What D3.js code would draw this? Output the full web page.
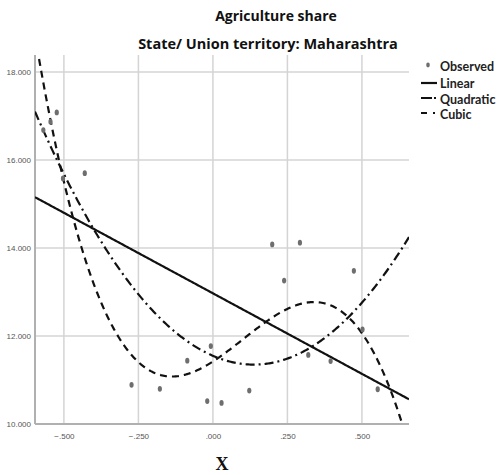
<!DOCTYPE html>
<html>
<head>
<meta charset="utf-8">
<script src="https://cdn.jsdelivr.net/npm/d3@7"></script>
<style>
  html, body { margin: 0; padding: 0; background: #fff; }
  svg { display: block; }
</style>
</head>
<body>
<svg id="chart" width="502" height="475"></svg>
<script>
// Observed values (x, agriculture share)
const obsX = [-0.569, -0.545, -0.524, -0.503, -0.430, -0.273, -0.178, -0.086, -0.007, -0.019,
              0.029, 0.122, 0.199, 0.239, 0.292, 0.320, 0.395, 0.473, 0.502, 0.553];
const obsY = [16.68, 16.87, 17.08, 15.58, 15.70, 10.89, 10.80, 11.44, 11.77, 10.52,
              10.48, 10.76, 14.08, 13.26, 14.12, 11.57, 11.43, 13.48, 12.15, 10.79];

// Fitted model coefficients, constant term first
const linearCoef = [12.97, -3.66];
const quadraticCoef = [11.55, -2.923, 10.675];
const cubicCoef = [11.42, 4.372, 9.463, -31.26];

const xTicks = [-0.5, -0.25, 0, 0.25, 0.5];
const yTicks = [10, 12, 14, 16, 18];
const legendLabels = ["Observed", "Linear", "Quadratic", "Cubic"];

const svg = d3.select("#chart");
const plot = { left: 35, right: 409, top: 55, bottom: 424 };

const x = d3.scaleLinear().domain([-0.597, 0.658]).range([plot.left, plot.right]);
const y = d3.scaleLinear().domain([10, 18.386]).range([plot.bottom, plot.top]);

// Titles
svg.append("text").attr("x", 276).attr("y", 21).attr("text-anchor", "middle")
  .attr("font-family", "Open Sans").attr("font-weight", 700).attr("font-size", 14)
  .attr("fill", "#111").text("Agriculture share");
svg.append("text").attr("x", 268).attr("y", 49).attr("text-anchor", "middle")
  .attr("font-family", "Open Sans").attr("font-weight", 700).attr("font-size", 14.5)
  .attr("fill", "#111").text("State/ Union territory: Maharashtra");

// Grid
const grid = svg.append("g");
grid.selectAll("line.h").data(yTicks.filter(d => d > 10)).join("line")
  .attr("x1", plot.left).attr("x2", plot.right)
  .attr("y1", d => y(d)).attr("y2", d => y(d))
  .attr("stroke", "#d4d4d4").attr("stroke-width", 1.5);
grid.selectAll("line.v").data(xTicks).join("line")
  .attr("x1", d => x(d)).attr("x2", d => x(d))
  .attr("y1", plot.top).attr("y2", plot.bottom)
  .attr("stroke", "#d4d4d4").attr("stroke-width", 1.5);

// Axes
const xAxis = d3.axisBottom(x).tickValues(xTicks).tickSize(0).tickPadding(8)
  .tickFormat(d => d3.format(".3f")(d).replace("0.", ".").replace("-0.", "-."));
const yAxis = d3.axisLeft(y).tickValues(yTicks).tickSize(0).tickPadding(4)
  .tickFormat(d => d3.format(".3f")(d));

const gx = svg.append("g").attr("transform", `translate(0,${plot.bottom})`).call(xAxis);
const gy = svg.append("g").attr("transform", `translate(${plot.left},0)`).call(yAxis);
[gx, gy].forEach(g => {
  g.select(".domain").attr("stroke", "#b0b0b0").attr("stroke-width", 2);
  g.selectAll("text").attr("font-family", "Liberation Sans Narrow, Liberation Sans")
    .attr("font-size", 8).attr("fill", "#555");
});
gx.select(".domain").attr("d", `M${plot.left},0H${plot.right}`);
gy.select(".domain").attr("d", `M0,${plot.top}V${plot.bottom}`);
gx.selectAll("text").attr("dy", "0.71em").attr("y", 9);

// Axis title
svg.append("text").attr("x", 222).attr("y", 470).attr("text-anchor", "middle")
  .attr("font-family", "Liberation Serif").attr("font-weight", 700).attr("font-size", 18)
  .attr("fill", "#111").text("X");

// Fitted curves
svg.append("clipPath").attr("id", "plotClip").append("rect")
  .attr("x", plot.left).attr("y", plot.top)
  .attr("width", plot.right - plot.left).attr("height", plot.bottom - plot.top);

const poly = coef => v => coef.reduce((s, c, i) => s + c * Math.pow(v, i), 0);
const xs = d3.range(0, 301).map(i => x.domain()[0] + (x.domain()[1] - x.domain()[0]) * i / 300);
const line = d3.line().x(d => x(d[0])).y(d => y(d[1]));

const curves = svg.append("g").attr("clip-path", "url(#plotClip)");
const fits = [
  { coef: linearCoef, dash: null },
  { coef: quadraticCoef, dash: "9,4,2,4" },
  { coef: cubicCoef, dash: "7,5" }
];
fits.forEach(f => {
  const fn = poly(f.coef);
  curves.append("path")
    .attr("d", line(xs.map(v => [v, fn(v)])))
    .attr("fill", "none").attr("stroke", "#111").attr("stroke-width", 2.2)
    .attr("stroke-dasharray", f.dash);
});

// Observed points
svg.append("g").selectAll("ellipse").data(d3.zip(obsX, obsY)).join("ellipse")
  .attr("cx", d => x(d[0])).attr("cy", d => y(d[1]))
  .attr("rx", 2.1).attr("ry", 2.9).attr("fill", "#6e6e6e");

// Legend
const lg = svg.append("g").attr("font-family", "Lato").attr("font-weight", 700)
  .attr("font-size", 12.5).attr("fill", "#222");
const rows = [67, 84, 100, 115];
legendLabels.forEach((lab, i) => {
  lg.append("text").attr("x", 440).attr("y", rows[i]).attr("dy", "0.35em").text(lab);
});
lg.append("ellipse").attr("cx", 428).attr("cy", 65).attr("rx", 1.8).attr("ry", 2.4).attr("fill", "#6e6e6e");
lg.append("line").attr("x1", 421).attr("x2", 437).attr("y1", 83).attr("y2", 83)
  .attr("stroke", "#111").attr("stroke-width", 2.2);
lg.append("line").attr("x1", 421).attr("x2", 437).attr("y1", 98).attr("y2", 98)
  .attr("stroke", "#111").attr("stroke-width", 2.2).attr("stroke-dasharray", "11,2,2,4");
lg.append("line").attr("x1", 421).attr("x2", 437).attr("y1", 113).attr("y2", 113)
  .attr("stroke", "#111").attr("stroke-width", 2.2).attr("stroke-dasharray", "6,6,2,4");
</script>
</body>
</html>
